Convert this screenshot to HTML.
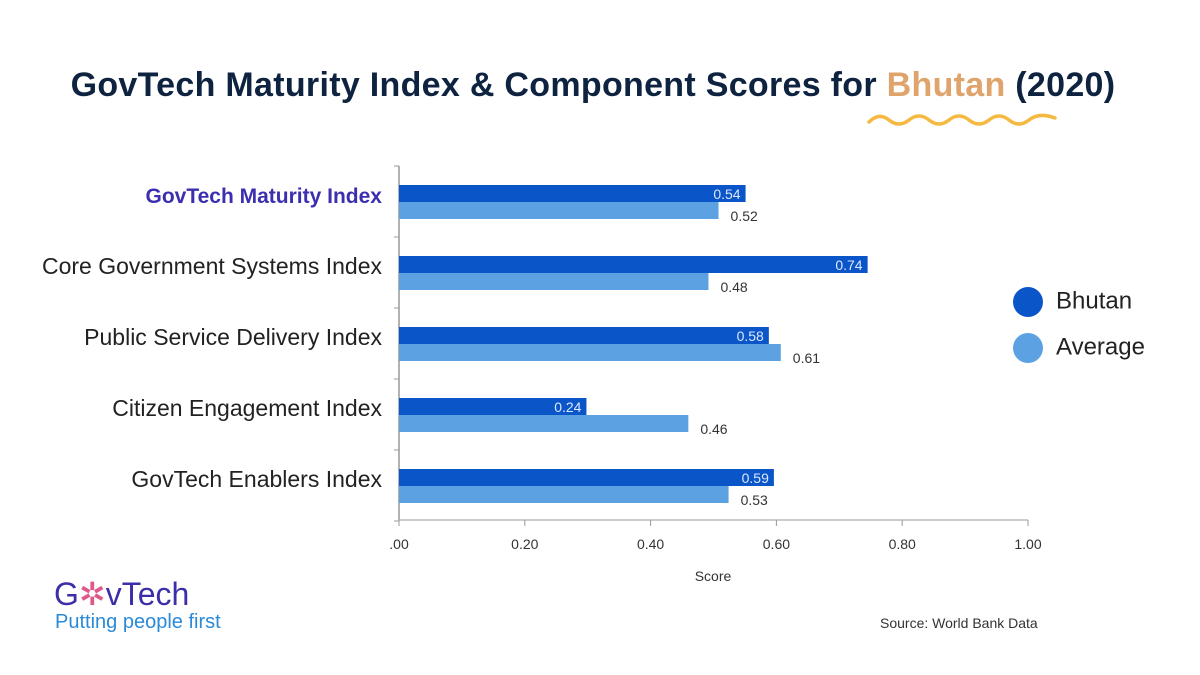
<!DOCTYPE html>
<html><head><meta charset="utf-8"><style>
body{margin:0;width:1200px;height:675px;background:#fff;overflow:hidden;font-family:"Liberation Sans",sans-serif}
.t{position:absolute;white-space:nowrap}
</style></head><body>
<div class="t" style="left:0;width:1186px;top:66px;text-align:center;font-size:34px;font-weight:bold;color:#0e2340;letter-spacing:0.3px">GovTech Maturity Index &amp; Component Scores for <span style="color:#dfa36c">Bhutan</span> (2020)</div>
<svg style="position:absolute;left:865px;top:108px" width="195" height="24"><path d="M4 14 Q14 4 24 12 T44 12 T64 12 T84 12 T104 12 T124 12 T144 12 T164 12 T190 10" fill="none" stroke="#f5b942" stroke-width="3.5" stroke-linecap="round"/></svg>
<svg id="c" width="1200" height="675" style="position:absolute;left:0;top:0"></svg>
<div class="t" style="left:1013px;top:287px;font-size:24px;color:#222"><span style="display:inline-block;width:30px;height:30px;border-radius:50%;background:#0a55c8;vertical-align:middle;margin-right:13px"></span>Bhutan</div>
<div class="t" style="left:1013px;top:333px;font-size:24px;color:#222"><span style="display:inline-block;width:30px;height:30px;border-radius:50%;background:#5ca2e2;vertical-align:middle;margin-right:13px"></span>Average</div>
<div class="t" style="left:54px;top:578px;font-size:32px;color:#3b2fa8;line-height:32px">G<span style="color:#e0588a">✲</span>vTech</div>
<div class="t" style="left:55px;top:611px;font-size:20px;color:#2a8ad8">Putting people first</div>
<div class="t" style="left:880px;top:615px;font-size:14px;color:#333">Source: World Bank Data</div>
<script>
const categories=["GovTech Maturity Index","Core Government Systems Index","Public Service Delivery Index","Citizen Engagement Index","GovTech Enablers Index"];
const bhutanValues=[0.551,0.745,0.588,0.298,0.596];
const averageValues=[0.508,0.492,0.607,0.460,0.524];
const bhutanLabels=["0.54","0.74","0.58","0.24","0.59"];
const averageLabels=["0.52","0.48","0.61","0.46","0.53"];
const tickValues=[0,0.2,0.4,0.6,0.8,1.0];
const tickLabels=[".00","0.20","0.40","0.60","0.80","1.00"];
const svg=document.getElementById('c');const NS='http://www.w3.org/2000/svg';
const x0=399,x1=1028,yTop=166,rowH=71,firstRow=185,axisY=520;
const xs=v=>x0+v*(x1-x0);
function mk(t,a,txt){const e=document.createElementNS(NS,t);for(const k in a)e.setAttribute(k,a[k]);if(txt!=null)e.textContent=txt;svg.appendChild(e);return e;}
let e=mk('line',{x1:x0,y1:yTop,x2:x0,y2:axisY,stroke:'#999','stroke-width':1.5});


e=mk('line',{x1:x0,y1:axisY,x2:x1,y2:axisY,stroke:'#bbb','stroke-width':1.5});


for(let i=0;i<=categories.length;i++){const y=yTop+i*rowH-0;mk('line',{x1:x0-5,y1:y,x2:x0,y2:y,stroke:'#999'});}
tickValues.forEach((v,i)=>{mk('line',{x1:xs(v),y1:axisY,x2:xs(v),y2:axisY+6,stroke:'#999'});
const t=mk('text',{x:xs(v),y:549,'text-anchor':'middle','font-size':14,fill:'#333'},tickLabels[i]);

});
e=mk('text',{x:713,y:581,'text-anchor':'middle','font-size':14,fill:'#333'},'Score');


categories.forEach((c,i)=>{const y=firstRow+i*rowH;
const l=mk('text',{x:382,y:y+18,'text-anchor':'end','font-size':i==0?21:23,fill:i==0?'#3b2fb0':'#222','font-weight':i==0?'bold':'normal'},c);


const b=mk('rect',{x:x0,y:y,width:xs(bhutanValues[i])-x0,height:17,fill:'#0a55c8'});


const a=mk('rect',{x:x0,y:y+17,width:xs(averageValues[i])-x0,height:17,fill:'#5ca2e2'});


const bl=mk('text',{x:xs(bhutanValues[i])-5,y:y+14,'text-anchor':'end','font-size':14,fill:'#dde8ff'},bhutanLabels[i]);


const al=mk('text',{x:xs(averageValues[i])+12,y:y+36,'font-size':14,fill:'#333'},averageLabels[i]);

});
</script>
</body></html>
